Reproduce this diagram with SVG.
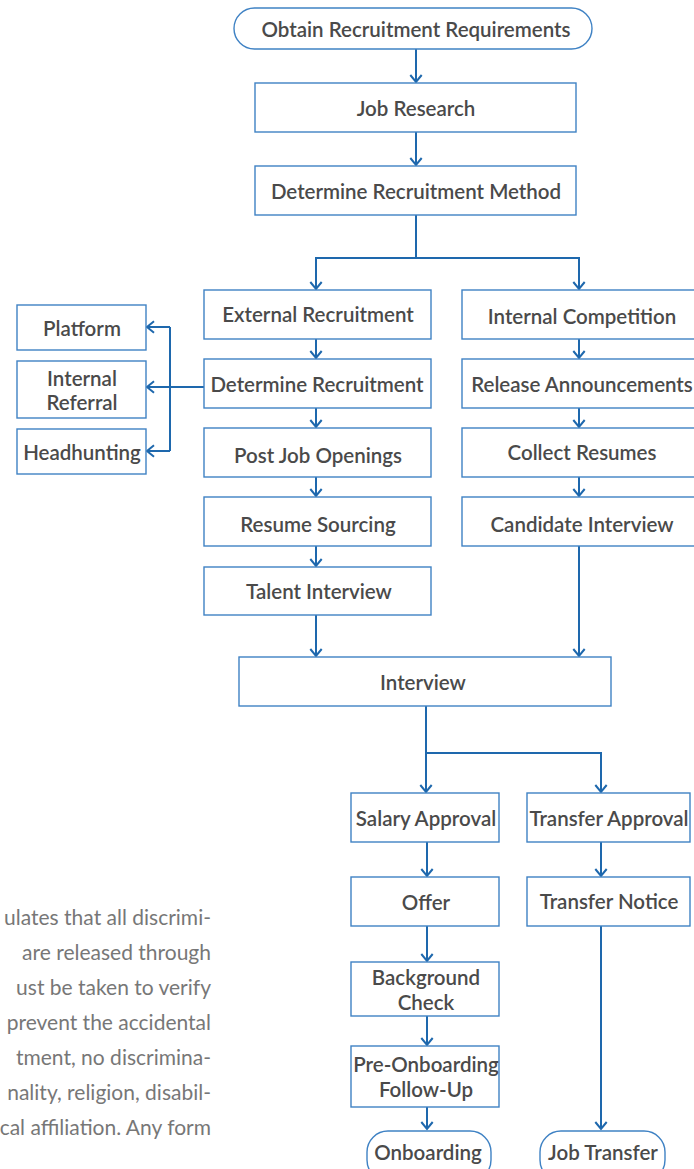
<svg xmlns="http://www.w3.org/2000/svg" width="694" height="1169" viewBox="0 0 694 1169">
<defs>
<style>
.box{fill:#fff;stroke:#3f82c4;stroke-width:1.4}
.t{font-family:"Lato","Noto Sans",sans-serif;font-size:20.5px;font-weight:600;fill:#4a4a4a;text-anchor:middle;dominant-baseline:central}
.c{fill:none;stroke:#1e68ad;stroke-width:2}
.p{font-family:"Lato","Noto Sans",sans-serif;font-size:21px;fill:#777;text-anchor:end}
</style>
<marker id="ah" markerUnits="userSpaceOnUse" markerWidth="9" markerHeight="13" viewBox="0 0 9 13" refX="8" refY="6.5" orient="auto" overflow="visible">
<path d="M1,0.8 L8,6.5 L1,12.2" fill="none" stroke="#1e68ad" stroke-width="2"/>
</marker>
</defs>
<rect width="694" height="1169" fill="#fff"/>
<g id="note">
<text class="p" x="211" y="925">ulates that all discrimi-</text>
<text class="p" x="211" y="960">are released through</text>
<text class="p" x="211" y="995">ust be taken to verify</text>
<text class="p" x="211" y="1030">prevent the accidental</text>
<text class="p" x="211" y="1065">tment, no discrimina-</text>
<text class="p" x="211" y="1100">nality, religion, disabil-</text>
<text class="p" x="211" y="1135">cal affiliation. Any form</text>
</g>
<g id="connectors">
<path class="c" d="M416,49 V82" marker-end="url(#ah)"/>
<path class="c" d="M416,132 V165" marker-end="url(#ah)"/>
<path class="c" d="M416,215 V258 H316 V289" marker-end="url(#ah)"/>
<path class="c" d="M416,258 H579 V289" marker-end="url(#ah)"/>
<path class="c" d="M316,339 V358" marker-end="url(#ah)"/>
<path class="c" d="M316,408 V427" marker-end="url(#ah)"/>
<path class="c" d="M316,477 V496" marker-end="url(#ah)"/>
<path class="c" d="M316,546 V566" marker-end="url(#ah)"/>
<path class="c" d="M316,615 V656" marker-end="url(#ah)"/>
<path class="c" d="M579,339 V358" marker-end="url(#ah)"/>
<path class="c" d="M579,408 V427" marker-end="url(#ah)"/>
<path class="c" d="M579,477 V496" marker-end="url(#ah)"/>
<path class="c" d="M579,546 V656" marker-end="url(#ah)"/>
<path class="c" d="M204,387 H147" marker-end="url(#ah)"/>
<path class="c" d="M170,327 V451"/>
<path class="c" d="M170,327 H147" marker-end="url(#ah)"/>
<path class="c" d="M170,451 H147" marker-end="url(#ah)"/>
<path class="c" d="M426,706 V753 V792" marker-end="url(#ah)"/>
<path class="c" d="M426,753 H601 V792" marker-end="url(#ah)"/>
<path class="c" d="M427,842 V876" marker-end="url(#ah)"/>
<path class="c" d="M427,926 V961" marker-end="url(#ah)"/>
<path class="c" d="M427,1016 V1045" marker-end="url(#ah)"/>
<path class="c" d="M427,1107 V1129" marker-end="url(#ah)"/>
<path class="c" d="M601,842 V876" marker-end="url(#ah)"/>
<path class="c" d="M601,926 V1129" marker-end="url(#ah)"/>
</g>
<g id="n-obtain"><rect class="box" x="234" y="8" width="358" height="41" rx="20.5"/><text class="t" x="416" y="28.5">Obtain Recruitment Requirements</text></g>
<g id="n-jobresearch"><rect class="box" x="255" y="83" width="321" height="49"/><text class="t" x="416" y="107.5">Job Research</text></g>
<g id="n-method"><rect class="box" x="255" y="166" width="321" height="49"/><text class="t" x="416" y="190.5">Determine Recruitment Method</text></g>
<g id="n-external"><rect class="box" x="204" y="290" width="227" height="49"/><text class="t" x="318" y="314">External Recruitment</text></g>
<g id="n-determine"><rect class="box" x="204" y="359" width="227" height="49"/><text class="t" x="317" y="383.5">Determine Recruitment</text></g>
<g id="n-post"><rect class="box" x="204" y="428" width="227" height="49"/><text class="t" x="318" y="455">Post Job Openings</text></g>
<g id="n-resume"><rect class="box" x="204" y="497" width="227" height="49"/><text class="t" x="318" y="524">Resume Sourcing</text></g>
<g id="n-talent"><rect class="box" x="204" y="567" width="227" height="48"/><text class="t" x="319" y="591">Talent Interview</text></g>
<g id="n-internal"><rect class="box" x="462" y="290" width="240" height="49"/><text class="t" x="582" y="316">Internal Competition</text></g>
<g id="n-release"><rect class="box" x="462" y="359" width="240" height="49"/><text class="t" x="582" y="384">Release Announcements</text></g>
<g id="n-collect"><rect class="box" x="462" y="428" width="240" height="49"/><text class="t" x="582" y="452">Collect Resumes</text></g>
<g id="n-candidate"><rect class="box" x="462" y="497" width="240" height="49"/><text class="t" x="582" y="524">Candidate Interview</text></g>
<g id="n-platform"><rect class="box" x="17" y="305" width="129" height="45"/><text class="t" x="82" y="328">Platform</text></g>
<g id="n-referral"><rect class="box" x="17" y="361" width="129" height="57"/><text class="t" x="82" y="378">Internal</text><text class="t" x="82" y="402">Referral</text></g>
<g id="n-headhunting"><rect class="box" x="17" y="429" width="129" height="45"/><text class="t" x="82" y="452">Headhunting</text></g>
<g id="n-interview"><rect class="box" x="239" y="657" width="372" height="49"/><text class="t" x="423" y="682">Interview</text></g>
<g id="n-salary"><rect class="box" x="351" y="793" width="148" height="49"/><text class="t" x="426" y="818">Salary Approval</text></g>
<g id="n-transferapproval"><rect class="box" x="527" y="793" width="163" height="49"/><text class="t" x="609" y="818">Transfer Approval</text></g>
<g id="n-offer"><rect class="box" x="351" y="877" width="148" height="49"/><text class="t" x="426" y="902">Offer</text></g>
<g id="n-transfernotice"><rect class="box" x="527" y="877" width="163" height="49"/><text class="t" x="609" y="901">Transfer Notice</text></g>
<g id="n-background"><rect class="box" x="351" y="962" width="148" height="54"/><text class="t" x="426" y="977">Background</text><text class="t" x="426" y="1002">Check</text></g>
<g id="n-preonboarding"><rect class="box" x="351" y="1046" width="148" height="61"/><text class="t" x="426" y="1064">Pre-Onboarding</text><text class="t" x="426" y="1089">Follow-Up</text></g>
<g id="n-onboarding"><rect class="box" x="367" y="1131" width="124" height="50" rx="21"/><text class="t" x="428" y="1152">Onboarding</text></g>
<g id="n-jobtransfer"><rect class="box" x="540" y="1131" width="125" height="50" rx="21"/><text class="t" x="603" y="1152">Job Transfer</text></g>
</svg>
